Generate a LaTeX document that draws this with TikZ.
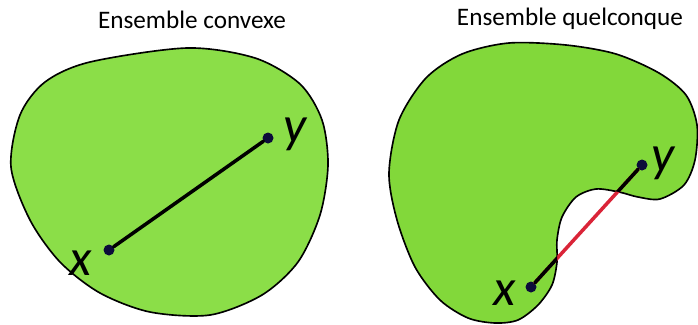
\documentclass[tikz,border=0pt]{standalone}
\usepackage{fontspec}
\setmainfont{Carlito}
\definecolor{vertA}{RGB}{139,222,72}
\definecolor{vertB}{RGB}{130,216,58}
\definecolor{rouge}{RGB}{218,36,56}
\definecolor{marine}{RGB}{12,12,58}
\newcommand\formeC{plot[smooth cycle] coordinates {(11,167) (20,115) (45,82) (90,62) (187,48) (255,58) (300,84) (322,120) (328,165) (320,215) (298,262) (262,295) (210,315) (150,312) (100,293) (60,262) (30,220)}}
\newcommand\formeQ{plot[smooth cycle] coordinates {(389,173) (399,120) (426,78) (462,54) (509,43) (566,45) (616,54) (659,73) (686,95) (697,125) (695,160) (684,185) (660,199) (638,197) (619,192) (596,189) (576,197) (562,217) (557,240) (557,262) (552,285) (538,305) (518,320) (495,323) (468,318) (440,300) (415,267) (397,220)}}
\begin{document}
\begin{tikzpicture}[x=0.3mm,y=-0.3mm,line join=round,line cap=round,
	titre/.style={anchor=base,font=\fontsize{21.5}{26}\selectfont},
	lettre/.style={anchor=base,font=\fontsize{44}{50}\selectfont\itshape},
	bord/.style={line width=1.4pt},
	seg/.style={line width=3pt},
	pt/.style={circle,fill=marine,inner sep=0pt,minimum size=3.3mm}]
	%	\draw[thin,gray!50,step=20] (0,0) grid (698,324);
	\useasboundingbox (0,0) rectangle (698,324);
	
	% ensemble convexe
	\draw[bord,fill=vertA] \formeC;
	\node[pt] (x1) at (109,250) {};
	\node[pt] (y1) at (268,138) {};
	\draw[seg] (x1) -- (y1);
	\node[lettre] (lx1) at (81,275) {x};
	\node[lettre] (ly1) at (295,142) {y};
	\node[titre] (t1) at (192,28) {Ensemble convexe};
	
	% ensemble quelconque
	\draw[bord,fill=vertB] \formeQ;
	\node[pt] (x2) at (531,287) {};
	\node[pt] (y2) at (642,165) {};
	\draw[seg,rouge] (x2) -- (y2);
	\begin{scope}
		\clip \formeQ;
		\draw[seg] (x2) -- (y2);
	\end{scope}
	\node[lettre] (lx2) at (505,305) {x};
	\node[lettre] (ly2) at (663,171) {y};
	\node[titre] (t2) at (570,25) {Ensemble quelconque};
\end{tikzpicture}
\end{document}
